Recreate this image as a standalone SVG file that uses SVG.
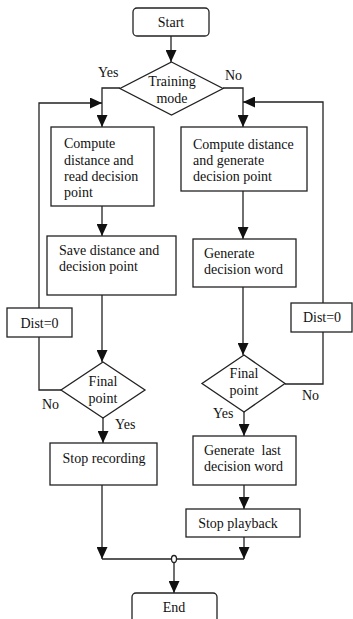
<svg xmlns="http://www.w3.org/2000/svg" width="353" height="619" viewBox="0 0 353 619">
<style>
.b{fill:#fff;stroke:#222;stroke-width:1.3}
.c{fill:none;stroke:#222;stroke-width:1.3}
text{font-family:"Liberation Serif","Times New Roman",serif;font-size:14px;fill:#111}
.m{text-anchor:middle}
</style>
<defs>
<marker id="a" markerUnits="userSpaceOnUse" markerWidth="12" markerHeight="11" refX="12" refY="5.5" orient="auto">
<path d="M0,0 L12,5.5 L0,11 z" fill="#111"/>
</marker>
</defs>
<rect width="353" height="619" fill="#fff"/>
<g id="connectors">
<path class="c" d="M171,36 V62" marker-end="url(#a)"/>
<path class="c" d="M120,88 H102 V127" marker-end="url(#a)"/>
<path class="c" d="M223,88 H243 V127" marker-end="url(#a)"/>
<path class="c" d="M102,206 V236" marker-end="url(#a)"/>
<path class="c" d="M102,295 V362" marker-end="url(#a)"/>
<path class="c" d="M61,390 H39 V337"/>
<path class="c" d="M39,308 V103 H102" marker-end="url(#a)"/>
<path class="c" d="M103,418 V443" marker-end="url(#a)"/>
<path class="c" d="M102,485 V559" marker-end="url(#a)"/>
<path class="c" d="M243,191 V239" marker-end="url(#a)"/>
<path class="c" d="M243,287 V355" marker-end="url(#a)"/>
<path class="c" d="M285,384 H323 V332"/>
<path class="c" d="M323,303 V102 H243" marker-end="url(#a)"/>
<path class="c" d="M244,412 V436" marker-end="url(#a)"/>
<path class="c" d="M244,485 V509" marker-end="url(#a)"/>
<path class="c" d="M244,537 V559" marker-end="url(#a)"/>
<path class="c" d="M102,559 H244"/>
<path class="c" d="M174,562 V593" marker-end="url(#a)"/>
<ellipse class="b" cx="174" cy="559" rx="2.5" ry="3.5"/>
<text x="98" y="77">Yes</text>
<text x="225" y="80">No</text>
<text x="42" y="409">No</text>
<text x="115" y="429">Yes</text>
<text x="302" y="400">No</text>
<text x="213" y="418">Yes</text>
</g>
<g id="start">
<rect class="b" x="133" y="8" width="76" height="28" rx="4"/>
<text class="m" x="171" y="27">Start</text>
</g>
<g id="training">
<polygon class="b" points="171.5,62 223,88.5 171.5,115 120,88.5"/>
<text class="m" x="172" y="86">Training</text>
<text class="m" x="172" y="103">mode</text>
</g>
<g id="compute-read">
<rect class="b" x="51" y="127" width="103" height="79"/>
<text x="64" y="148">Compute</text>
<text x="64" y="164.5">distance and</text>
<text x="64" y="181">read decision</text>
<text x="64" y="197">point</text>
</g>
<g id="compute-generate">
<rect class="b" x="181" y="127" width="126" height="64"/>
<text x="193" y="149">Compute distance</text>
<text x="193" y="165">and generate</text>
<text x="193" y="181">decision point</text>
</g>
<g id="save">
<rect class="b" x="47" y="236" width="129" height="59"/>
<text x="59" y="255">Save distance and</text>
<text x="59" y="271">decision point</text>
</g>
<g id="gen-word">
<rect class="b" x="193" y="239" width="103" height="48"/>
<text x="204" y="258">Generate</text>
<text x="204" y="274">decision word</text>
</g>
<g id="dist-left">
<rect class="b" x="7" y="308" width="65" height="29"/>
<text class="m" x="39.5" y="328">Dist=0</text>
</g>
<g id="dist-right">
<rect class="b" x="291" y="303" width="61" height="29"/>
<text class="m" x="322" y="322">Dist=0</text>
</g>
<g id="final-left">
<polygon class="b" points="103,362 145,390 103,418 61,390"/>
<text class="m" x="103" y="386">Final</text>
<text class="m" x="103" y="403">point</text>
</g>
<g id="final-right">
<polygon class="b" points="244,355 285,383.5 244,412 202,383.5"/>
<text class="m" x="244" y="378">Final</text>
<text class="m" x="244" y="395">point</text>
</g>
<g id="stop-recording">
<rect class="b" x="50" y="443" width="107" height="42"/>
<text class="m" x="104" y="463">Stop recording</text>
</g>
<g id="gen-last">
<rect class="b" x="193" y="436" width="103" height="49"/>
<text x="204" y="455" xml:space="preserve">Generate  last</text>
<text x="204" y="471">decision word</text>
</g>
<g id="stop-playback">
<rect class="b" x="186" y="509" width="114" height="28"/>
<text class="m" x="238" y="528">Stop playback</text>
</g>
<g id="end">
<rect class="b" x="132" y="593" width="85" height="34" rx="4"/>
<text class="m" x="174" y="612">End</text>
</g>
</svg>
